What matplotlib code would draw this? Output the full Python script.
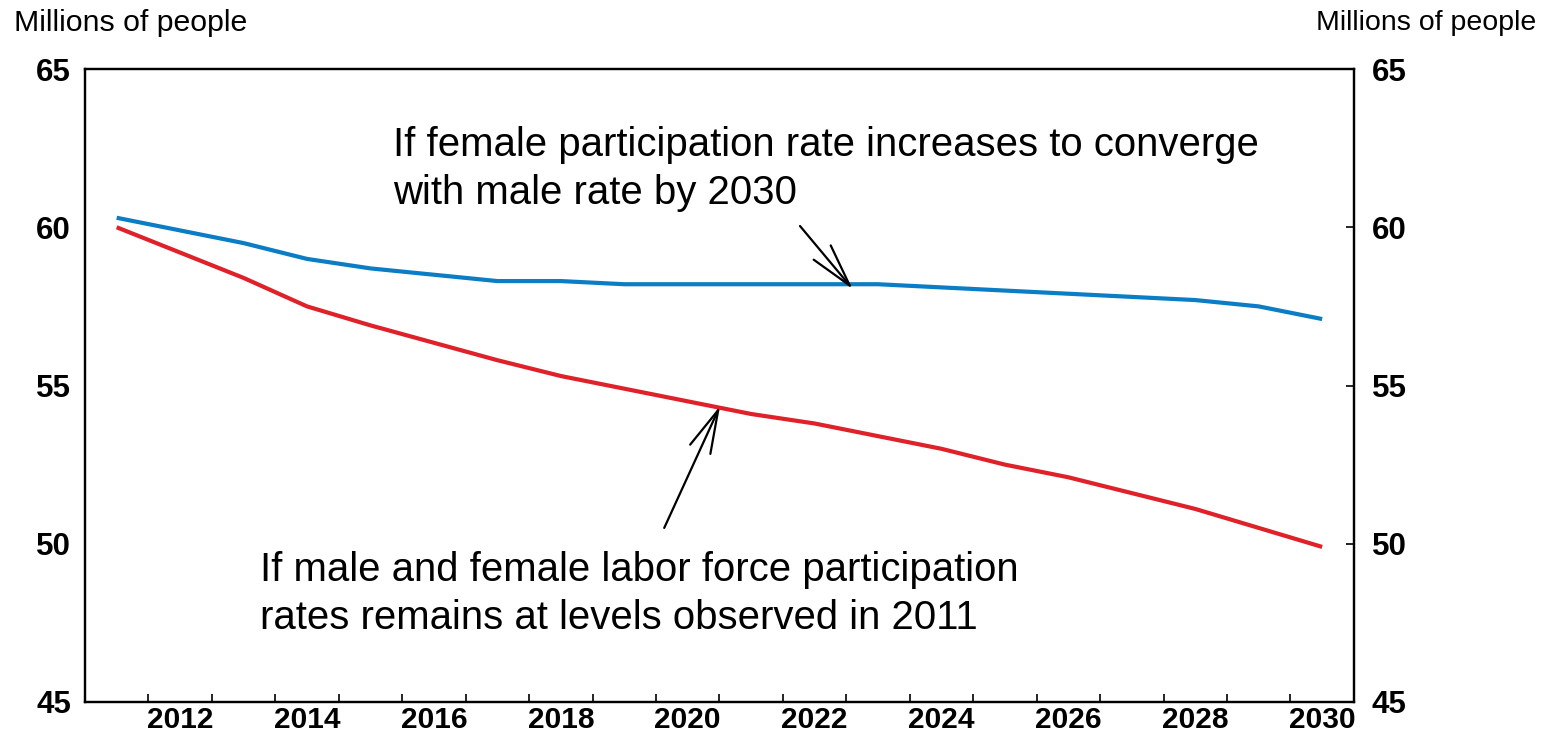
import matplotlib
matplotlib.use("Agg")
import matplotlib.pyplot as plt
import numpy as np

# Labor force projections, millions of people
years = list(range(2011, 2031))
converge = [60.3, 59.9, 59.5, 59.0, 58.7, 58.5, 58.3, 58.3, 58.2, 58.2,
            58.2, 58.2, 58.2, 58.1, 58.0, 57.9, 57.8, 57.7, 57.5, 57.1]
constant_2011 = [60.0, 59.2, 58.4, 57.5, 56.9, 56.35, 55.8, 55.3, 54.9, 54.5,
                 54.1, 53.8, 53.4, 53.0, 52.5, 52.1, 51.6, 51.1, 50.5, 49.9]
label_years = [2012, 2014, 2016, 2018, 2020, 2022, 2024, 2026, 2028, 2030]
y_ticks = [45, 50, 55, 60, 65]

plt.rcParams["font.family"] = ["Liberation Sans", "DejaVu Sans"]

fig = plt.figure(figsize=(15.42, 7.32), dpi=100)
ax = fig.add_axes([0.0551, 0.041, 0.8229, 0.8647])

pos = np.arange(len(years))
ax.plot(pos, converge, color="#0A7DC4", linewidth=3.0, solid_capstyle="butt")
ax.plot(pos, constant_2011, color="#DF2129", linewidth=3.0, solid_capstyle="butt")

ax.set_xlim(-0.5, len(years) - 0.5)
ax.set_ylim(45, 65)

# year bands: ticks on the boundaries, labels in the middle
ax.set_xticks([years.index(y) for y in label_years])
ax.set_xticklabels([str(y) for y in label_years], fontsize=21.5, fontweight="bold")
ax.set_xticks(np.arange(0.5, len(years) - 1, 1.0), minor=True)
ax.tick_params(axis="x", which="major", length=0, pad=3)
ax.tick_params(axis="x", which="minor", direction="in", length=6, width=1.2)

ax.set_yticks(y_ticks)
ax.set_yticklabels([str(v) for v in y_ticks], fontsize=22.5, fontweight="bold")
ax.tick_params(axis="y", length=0, pad=10)

ax2 = ax.twinx()
ax2.set_ylim(45, 65)
ax2.set_yticks(y_ticks)
ax2.set_yticklabels([str(v) for v in y_ticks], fontsize=22.5, fontweight="bold")
ax2.tick_params(axis="y", direction="in", length=6, width=1.2, pad=13)

for a in (ax, ax2):
    for s in a.spines.values():
        s.set_linewidth(1.6)
        s.set_color("black")

fig.text(0.009, 0.968, "Millions of people", fontsize=21.8, va="center", ha="left")
fig.text(0.996, 0.968, "Millions of people", fontsize=20.5, va="center", ha="right")

arrow = dict(arrowstyle="->, head_length=1.55, head_width=0.4",
             color="black", lw=1.6, mutation_scale=20, shrinkA=0, shrinkB=0)

ax.text(4.35, 63.2, "If female participation rate increases to converge\nwith male rate by 2030",
        fontsize=28.9, ha="left", va="top", linespacing=1.33)
ax.annotate("", xy=(11.6, 58.05), xytext=(10.77, 60.04), arrowprops=arrow)

ax.text(2.26, 49.77, "If male and female labor force participation\nrates remains at levels observed in 2011",
        fontsize=28.9, ha="left", va="top", linespacing=1.33)
ax.annotate("", xy=(9.51, 54.35), xytext=(8.63, 50.5), arrowprops=arrow)

fig.savefig("out.png", dpi=100)
